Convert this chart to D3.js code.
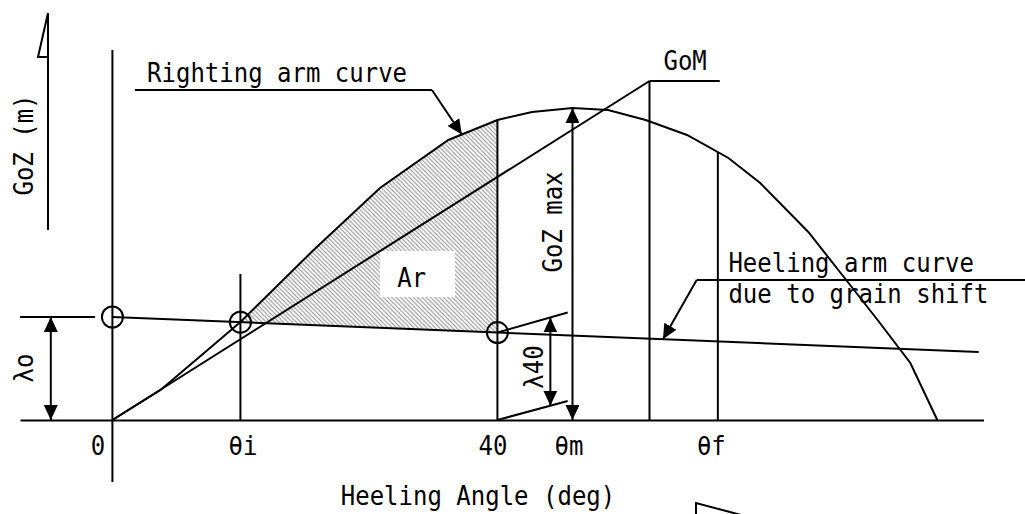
<!DOCTYPE html>
<html>
<head>
<meta charset="utf-8">
<script src="https://cdnjs.cloudflare.com/ajax/libs/d3/7.8.5/d3.min.js"></script>
<style>
    body { margin: 0; background: #fff; }
    svg text { font-family: "DejaVu Sans Mono", monospace; font-size: 24px; fill: #000; }
</style>
</head>
<body>
<svg id="chart" width="1025" height="514"></svg>
<script>
// Righting arm curve, GoZ (m) against heeling angle (deg)
const rightingDeg = [0, 5, 10.5, 13.3, 20.9, 27.8, 34.9, 40, 43.6, 47.8, 51.5, 55.4, 59.7, 64.0, 67.3, 72.3, 76.4, 79.5, 82.9, 85.7];
const rightingGoZ = [0, 0.030, 0.075, 0.098, 0.170, 0.232, 0.280, 0.300, 0.308, 0.312, 0.310, 0.300, 0.285, 0.262, 0.237, 0.188, 0.138, 0.100, 0.057, 0];

// Heeling arm curve due to grain shift (straight line)
const heelDeg = [0, 90];
const heelArm = [0.103, 0.068];

// Characteristic angles
const thetaI = 13.3;
const thetaM = 47.8;
const thetaGoM = 55.8;
const gomValue = 0.339;
const thetaF = 62.9;

const tickDeg = [0, thetaI, 40, thetaM, thetaF];
const tickLabels = ['0', 'θi', '40', 'θm', 'θf'];
const tickShift = [-15, 2, -5, -4, -7];

const svg = d3.select('#chart');

const x = d3.scaleLinear().domain([-9.6, 90.5]).range([20, 983.5]);
const y = d3.scaleLinear().domain([0, 0.3]).range([420, 120]);

// glyphs of the source font are taller than DejaVu's
const stretch = 'scale(1,1.1)';

// linear interpolation along a polyline
function at(xs, ys, d) {
    let i = d3.bisectRight(xs, d) - 1;
    i = Math.max(0, Math.min(xs.length - 2, i));
    const t = (d - xs[i]) / (xs[i + 1] - xs[i]);
    return ys[i] + t * (ys[i + 1] - ys[i]);
}
const righting = d => at(rightingDeg, rightingGoZ, d);
const heel = d => at(heelDeg, heelArm, d);

function label(px, py, txt, opts = {}) {
    return svg.append('text')
        .attr('transform', `translate(${px},${py})${opts.rotate ? ' rotate(' + opts.rotate + ')' : ''} ${stretch}`)
        .attr('text-anchor', opts.anchor || 'start')
        .text(txt);
}

// defs: hatch + arrow
const defs = svg.append('defs');
defs.append('pattern')
    .attr('id', 'hatch')
    .attr('patternUnits', 'userSpaceOnUse')
    .attr('width', 4.3)
    .attr('height', 4.3)
    .append('path')
    .attr('d', 'M0,0L4.3,4.3M-1,3.3L1,5.3M3.3,-1L5.3,1')
    .attr('stroke', '#9a9a9a')
    .attr('stroke-width', 1.1);

defs.append('marker')
    .attr('id', 'arrow')
    .attr('markerUnits', 'userSpaceOnUse')
    .attr('viewBox', '0 0 15 14')
    .attr('markerWidth', 15)
    .attr('markerHeight', 14)
    .attr('refX', 15)
    .attr('refY', 7)
    .attr('orient', 'auto-start-reverse')
    .append('path')
    .attr('d', 'M0,0L15,7L0,14Z')
    .attr('fill', '#000');

const line = d3.line().x(d => x(d[0])).y(d => y(d[1]));

// Ar: hatched area between righting and heeling curves from θi to 40
const areaPts = [[thetaI, righting(thetaI)]];
rightingDeg.forEach((d, i) => {
    if (d > thetaI && d < 40) areaPts.push([d, rightingGoZ[i]]);
});
areaPts.push([40, righting(40)], [40, heel(40)], [thetaI, heel(thetaI)]);

svg.append('path')
    .attr('d', line(areaPts) + 'Z')
    .attr('fill', 'url(#hatch)')
    .attr('stroke', 'none');

svg.append('rect')
    .attr('x', x(27.8))
    .attr('y', y(0.169))
    .attr('width', x(35.6) - x(27.8))
    .attr('height', y(0.123) - y(0.169))
    .attr('fill', '#fff');

label(x(29.6), y(0.133), 'Ar');

// x axis (baseline)
const xAxis = svg.append('g')
    .attr('transform', `translate(0,${y(0)})`)
    .call(d3.axisBottom(x)
        .tickValues(tickDeg)
        .tickFormat((d, i) => tickLabels[i])
        .tickSize(0)
        .tickSizeOuter(0)
        .tickPadding(0));
xAxis.select('.domain').attr('stroke', '#000').attr('stroke-width', 2);
xAxis.selectAll('.tick text')
    .attr('y', null)
    .attr('dy', null)
    .attr('transform', (d, i) => `translate(${tickShift[i]},35) ${stretch}`);

const stroke = (sel, w) => sel.attr('fill', 'none').attr('stroke', '#000').attr('stroke-width', w || 2);

// y axis
svg.append('path').attr('d', line([[0, 0.37], [0, -0.062]])).call(stroke);

// vertical lines
svg.append('path').attr('d', line([[thetaI, 0.146], [thetaI, 0]])).call(stroke);
svg.append('path').attr('d', line([[40, righting(40)], [40, 0]])).call(stroke);
svg.append('path').attr('d', line([[thetaF, righting(thetaF)], [thetaF, 0]])).call(stroke);
svg.append('path').attr('d', line([[thetaGoM, gomValue], [thetaGoM, 0]])).call(stroke);

// GoM tangent line and leader
svg.append('path').attr('d', line([[0, 0], [thetaGoM, gomValue]])).call(stroke);
svg.append('path').attr('d', line([[thetaGoM, gomValue], [63.1, gomValue]])).call(stroke);
label(x(59.5), y(0.35), 'GoM', { anchor: 'middle' });

// righting arm curve
svg.append('path')
    .attr('d', line(rightingDeg.map((d, i) => [d, rightingGoZ[i]])))
    .call(stroke);

// heeling arm curve
svg.append('path')
    .attr('d', line(heelDeg.map((d, i) => [d, heelArm[i]])))
    .call(stroke);

// circles at intersections
[[0, heel(0)], [thetaI, heel(thetaI)], [40, heel(40)]].forEach(p => {
    svg.append('circle')
        .attr('cx', x(p[0]))
        .attr('cy', y(p[1]))
        .attr('r', 10.5)
        .call(stroke);
});

// λo dimension
svg.append('path').attr('d', line([[-9.6, heel(0)], [-1.8, heel(0)]])).call(stroke);
svg.append('path')
    .attr('d', line([[-6.4, heel(0)], [-6.4, 0]]))
    .call(stroke)
    .attr('marker-start', 'url(#arrow)')
    .attr('marker-end', 'url(#arrow)');
label(33, 368, 'λo', { rotate: -90, anchor: 'middle' });

// λ40 dimension
const dimRise = 0.02;
svg.append('path').attr('d', line([[40, heel(40)], [47.3, heel(40) + dimRise]])).call(stroke);
svg.append('path').attr('d', line([[40, 0], [47.3, 0.019]])).call(stroke);
svg.append('path')
    .attr('d', line([[45.5, heel(40) + dimRise * 5.5 / 7.3], [45.5, 0.019 * 5.5 / 7.3]]))
    .call(stroke)
    .attr('marker-start', 'url(#arrow)')
    .attr('marker-end', 'url(#arrow)');
label(543, 367, 'λ40', { rotate: -90, anchor: 'middle' });

// GoZ max dimension
svg.append('path')
    .attr('d', line([[thetaM, righting(thetaM)], [thetaM, 0]]))
    .call(stroke)
    .attr('marker-start', 'url(#arrow)')
    .attr('marker-end', 'url(#arrow)');
label(562, 222, 'GoZ max', { rotate: -90, anchor: 'middle' });

// righting arm label + leader
label(x(3.6), y(0.338), 'Righting arm curve');
svg.append('path').attr('d', line([[2.35, 0.33], [33.2, 0.33]])).call(stroke);
svg.append('path')
    .attr('d', line([[33.2, 0.33], [36.3, righting(36.3)]]))
    .call(stroke)
    .attr('marker-end', 'url(#arrow)');

// heeling arm label + leader
label(x(64), y(0.148), 'Heeling arm curve');
label(x(64), y(0.117), 'due to grain shift');
svg.append('path').attr('d', line([[60.7, 0.14], [95, 0.14]])).call(stroke);
svg.append('path')
    .attr('d', line([[60.7, 0.14], [57.2, heel(57.2)]]))
    .call(stroke)
    .attr('marker-end', 'url(#arrow)');

// axis titles
label(478, 505, 'Heeling Angle (deg)', { anchor: 'middle' });
label(33, 145, 'GoZ (m)', { rotate: -90, anchor: 'middle' });

// title-bar decorations from the source sheet
svg.append('path').attr('d', 'M48,230V13L38,57H48').call(stroke);
svg.append('path').attr('d', 'M745,516L696,503V516').call(stroke);
</script>
</body>
</html>
